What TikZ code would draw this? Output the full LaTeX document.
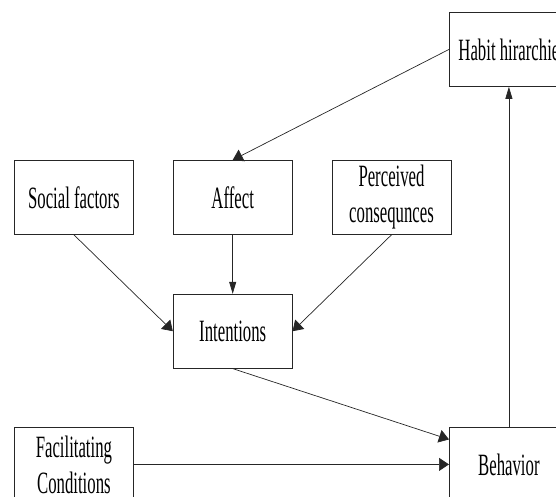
\documentclass[tikz,border=0pt]{standalone}
\usepackage{fontspec}
\setmainfont{Liberation Serif}
\newfontfamily\narrowfont[FakeStretch=0.54]{Liberation Serif}
\usetikzlibrary{positioning, arrows.meta}
\tikzset{
	box/.style={draw=black!85, line width=0.8pt, minimum width=119pt, minimum height=74pt,
		inner sep=0pt, align=center, font=\narrowfont\fontsize{31}{36}\selectfont},
	link/.style={draw=black!85, line width=0.7pt, -{Triangle[length=10pt, width=13pt]}},
	vlink/.style={link, -{Triangle[length=12pt, width=7pt]}}
}
\begin{document}
\begin{tikzpicture}[x=1pt, y=-1pt]
		\useasboundingbox (0,0) rectangle (556,496);
		\clip (0,0) rectangle (556,496);
		\node[box, anchor=north west] (social) at (14,160) {Social factors};
		\node[box, right = 39pt of social] (affect) {Affect};
		\node[box, right = 39pt of affect] (perceived) {Perceived\\consequnces};
		\node[box, below = 59pt of affect] (intentions) {Intentions};
		\node[box, anchor=north west] (habit) at (449,12) {Habit hirarchie};
		\node[box, anchor=north west] (facilitating) at (14,427) {Facilitating\\Conditions};
		\node[box, anchor=north west] (behavior) at (449,427) {Behavior};
		
		\draw[link] (habit.west) -- (affect.north);
		\draw[link] (social.south) -- (intentions.west);
		\draw[vlink] (affect.south) -- (intentions.north);
		\draw[link] (perceived.south) -- (intentions.east);
		\draw[link] (intentions.south) -- ([yshift=25pt]behavior.west);
		\draw[link] (facilitating.east) -- (behavior.west);
		\draw[vlink] (behavior.north) -- (habit.south);
\end{tikzpicture}
\end{document}
